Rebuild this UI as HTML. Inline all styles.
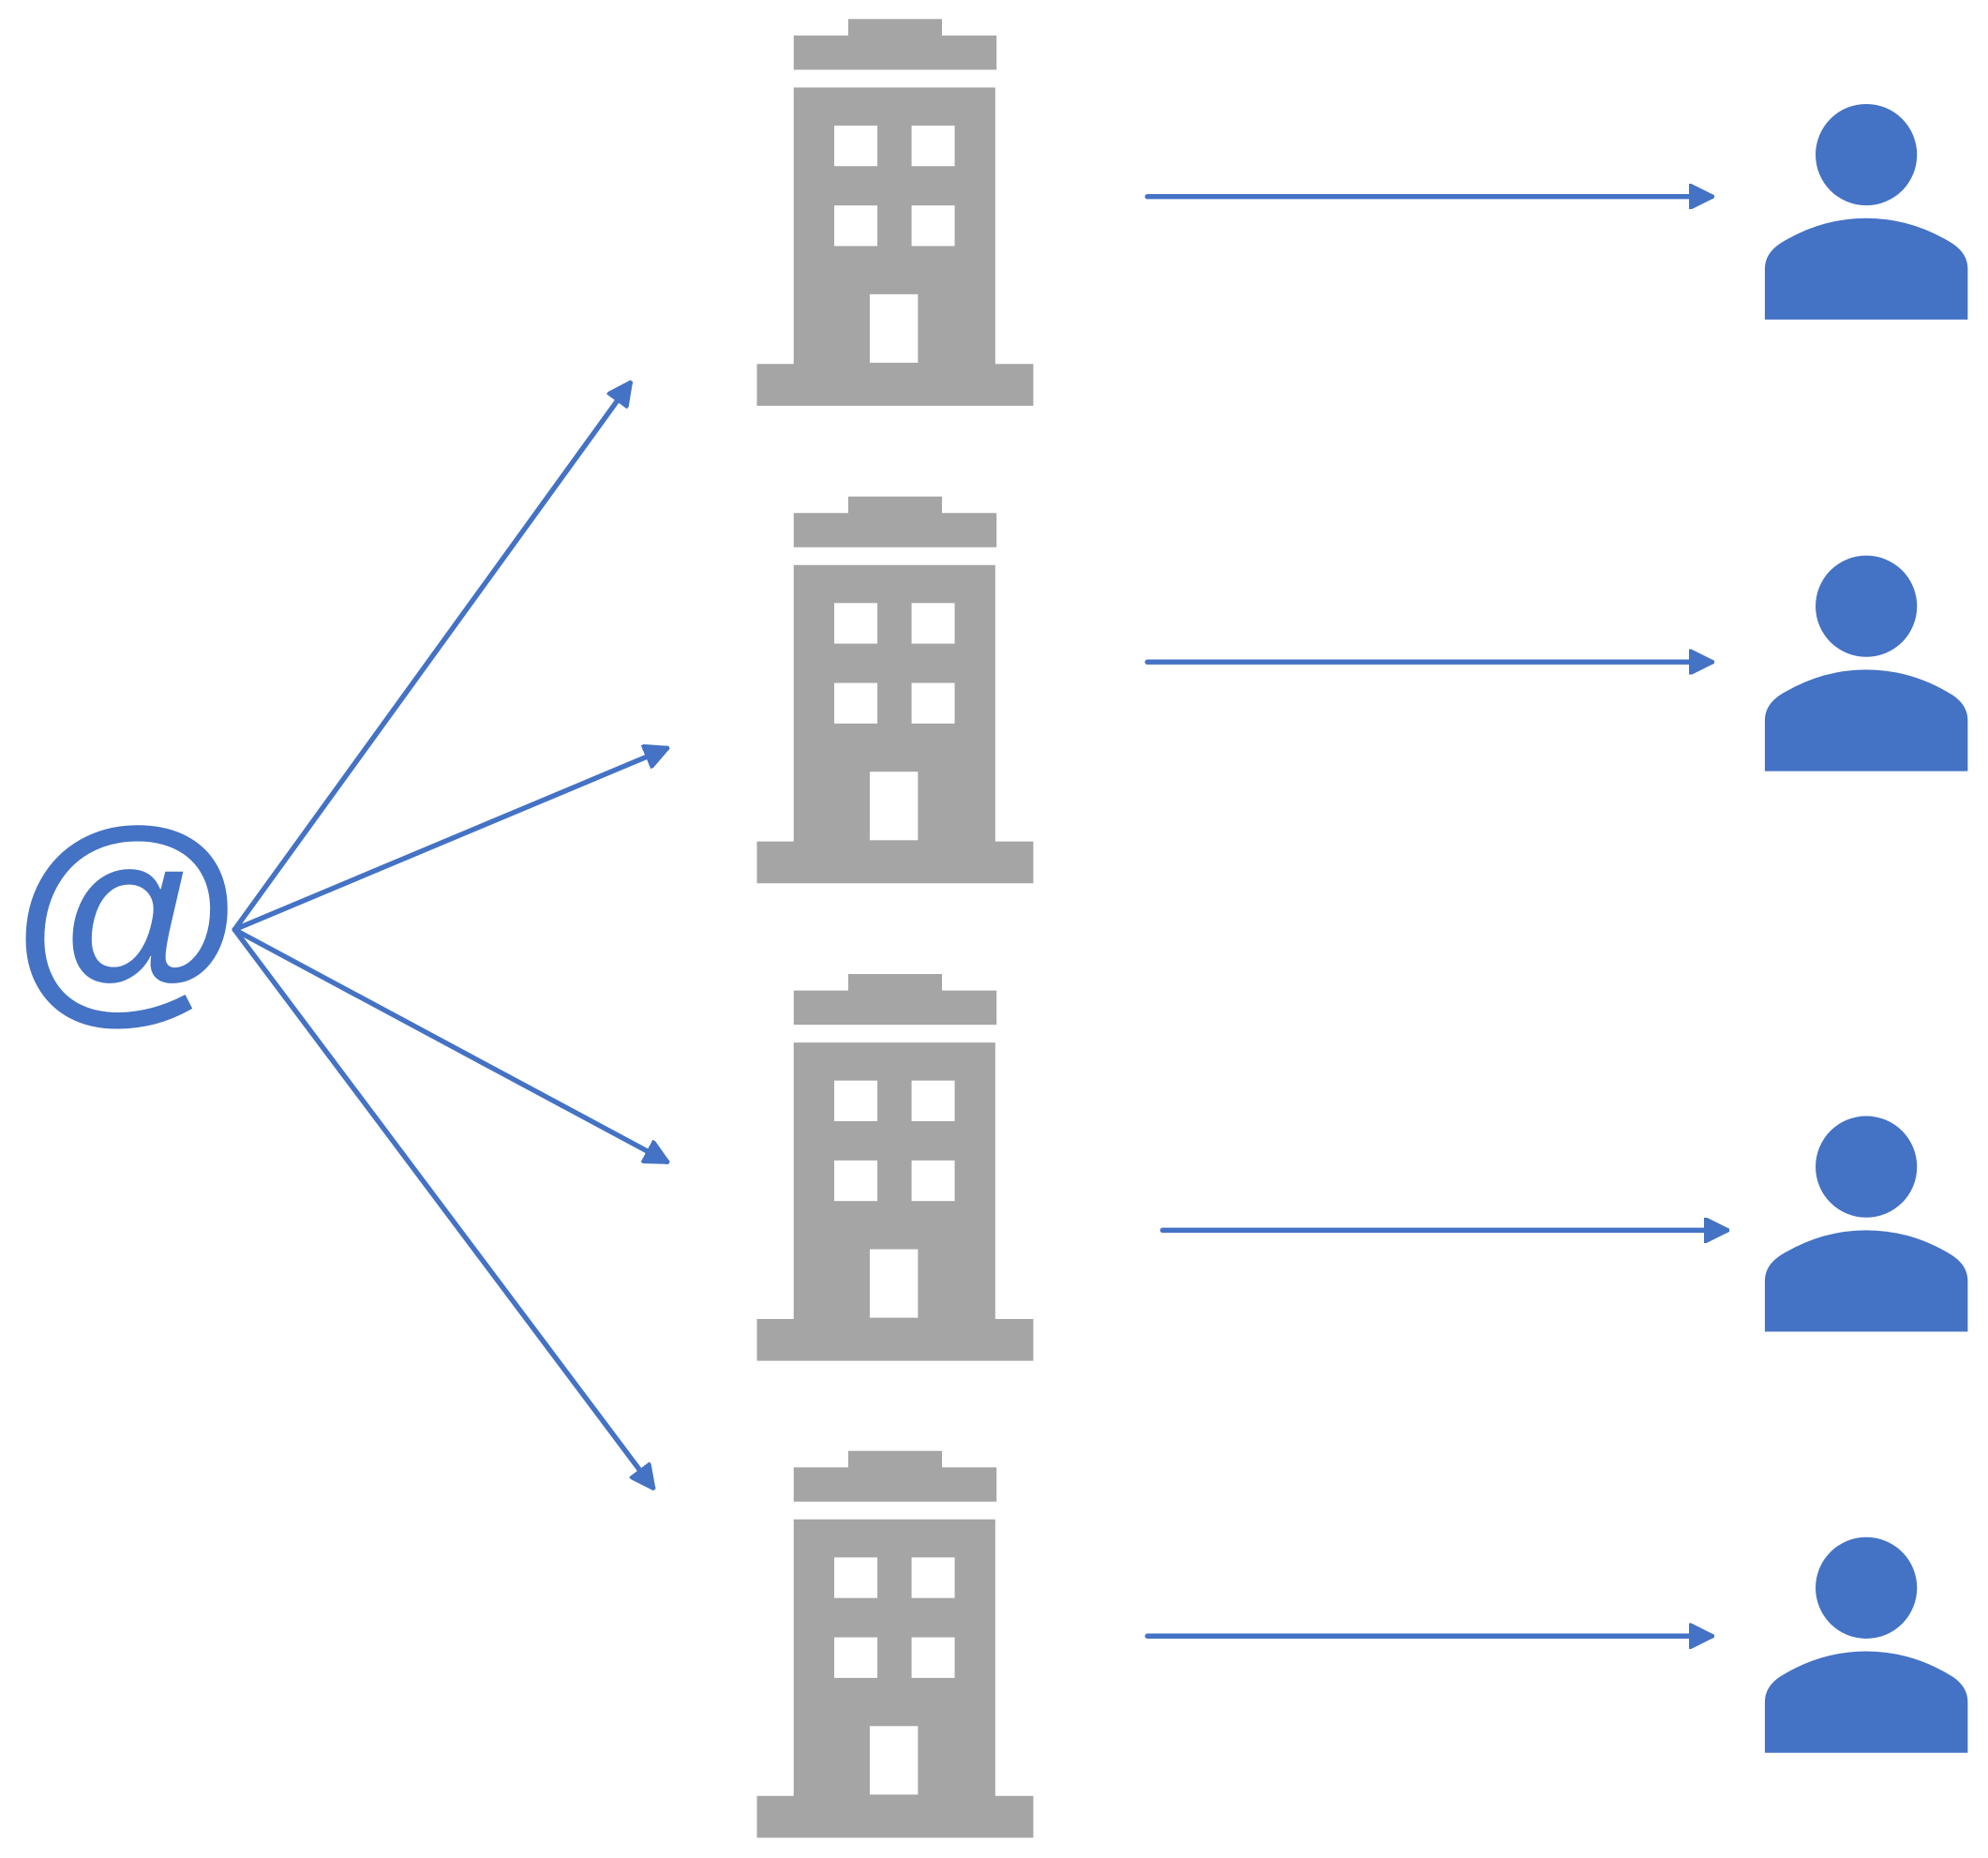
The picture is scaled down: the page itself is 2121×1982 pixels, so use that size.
<!DOCTYPE html>
<html><head><meta charset="utf-8"><style>html,body{margin:0;padding:0;background:#fff;}svg{display:block}</style></head>
<body>
<svg width="2121" height="1982" viewBox="0 0 1568 1465" preserveAspectRatio="none" xmlns="http://www.w3.org/2000/svg">
<defs>
<marker id="a" viewBox="0 0 10 10" refX="9" refY="5" markerWidth="5" markerHeight="5" orient="auto" markerUnits="strokeWidth">
<path d="M0,0 L10,5 L0,10 Z" fill="#4472C4" stroke="#4472C4" stroke-linejoin="round"/>
</marker>
<g id="b" fill="#A5A5A5">
<rect x="669" y="15" width="74" height="14"/>
<rect x="626" y="28" width="160" height="27"/>
<path d="M626 69 H785 V287 H815 V320 H597 V287 H626 Z"/>
<g fill="#fff">
<rect x="658" y="99" width="34" height="32"/><rect x="719" y="99" width="34" height="32"/>
<rect x="658" y="162" width="34" height="32"/><rect x="719" y="162" width="34" height="32"/>
<rect x="686" y="232" width="38" height="54"/>
</g>
</g>
<g id="p" fill="#4472C4">
<circle cx="1472" cy="122" r="40"/>
<path d="M1392 252 V212 Q1392 200 1404 192 Q1436 172 1472 172 Q1508 172 1540 192 Q1552 200 1552 212 V252 Z"/>
</g>
</defs>
<use href="#b"/>
<use href="#b" y="376.5"/>
<use href="#b" y="753"/>
<use href="#b" y="1129"/>
<use href="#p"/>
<use href="#p" y="356"/>
<use href="#p" y="798"/>
<use href="#p" y="1130"/>
<g stroke="#4472C4" stroke-width="4" stroke-linecap="round" fill="none" marker-end="url(#a)">
<line x1="905" y1="155" x2="1350" y2="155"/>
<line x1="905" y1="522" x2="1350" y2="522"/>
<line x1="917" y1="970" x2="1362" y2="970"/>
<line x1="905" y1="1290" x2="1350" y2="1290"/>
<line x1="185" y1="733" x2="497" y2="302"/>
<line x1="185" y1="733" x2="526" y2="590"/>
<line x1="185" y1="733" x2="526" y2="916"/>
<line x1="185" y1="733" x2="515" y2="1173"/>
</g>
<text x="100" y="782" font-family="Liberation Sans, sans-serif" font-weight="bold" font-size="185" fill="#4472C4" text-anchor="middle">@</text>
</svg>
</body></html>
